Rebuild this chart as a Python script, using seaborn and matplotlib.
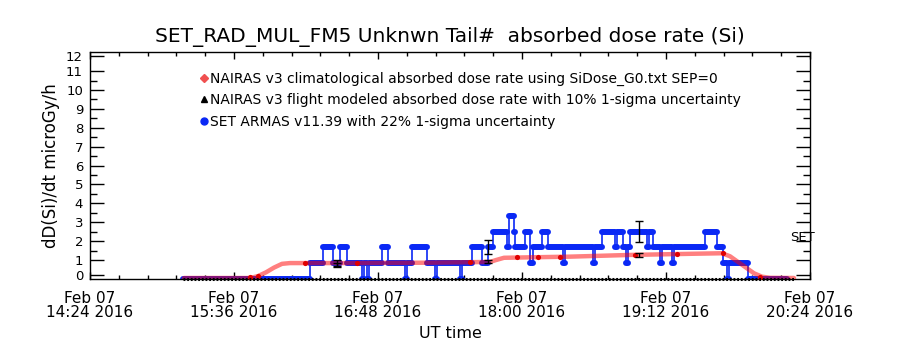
import numpy as np
import pandas as pd
import matplotlib
matplotlib.use('Agg')
import matplotlib.pyplot as plt
from matplotlib.lines import Line2D
import seaborn as sns

# time axis: minutes after Feb 07 2016 14:24 UT
tick_min = [0, 72, 144, 216, 288, 360]
tick_labels = ['Feb 07\n14:24 2016', 'Feb 07\n15:36 2016', 'Feb 07\n16:48 2016',
               'Feb 07\n18:00 2016', 'Feb 07\n19:12 2016', 'Feb 07\n20:24 2016']

# NAIRAS v3 climatological dose rate
red_t = [47, 80, 84, 88, 92, 96, 100, 130, 170, 200, 203, 207, 240, 270, 300, 316,
         320, 324, 328, 332, 336, 340, 352]
red_v = [0.05, 0.05, 0.15, 0.35, 0.6, 0.8, 0.84, 0.84, 0.86, 0.9, 1.0, 1.12, 1.18,
         1.27, 1.33, 1.36, 1.2, 0.9, 0.6, 0.3, 0.12, 0.06, 0.05]
red_dot_t = [80, 84, 107.5, 133.5, 190, 213.5, 224, 235, 272.5, 293.5, 316.5, 335]
red_dot_v = [0.08, 0.18, 0.83, 0.84, 0.88, 1.14, 1.16, 1.17, 1.27, 1.31, 1.36, 0.1]

# NAIRAS v3 flight modeled (zero line plus three evaluated points, 10% error)
flight_line_t = [46.5, 352]
flight_line_v = [0, 0]
flight_t = [123.5, 199, 274.5]
flight_v = [0.78, 0.92, 1.27]

# SET ARMAS v11.39 measured dose rate, as runs (start minute, level)
set_start = [46.5, 110, 116.5, 121.5, 125, 128.5, 136, 137, 138.5, 139.5, 146, 149,
             157.5, 158.5, 161, 168.5, 172.5, 173.5, 185, 186, 191, 196, 199, 201.5,
             208.5, 209.5, 212, 212.5, 217.5, 220, 221.5, 226, 229, 236.5, 237.5,
             251.5, 252.5, 256, 262.5, 263.5, 266.5, 268, 269, 270, 278.5, 279.5,
             281.5, 285, 286, 291, 292, 307.5, 313.5, 316.5, 318.5, 319.5, 329]
set_level = [0, 0.83, 1.67, 0.83, 1.67, 0.83, 0, 0.83, 0, 0.83, 1.67, 0.83,
             0, 0.83, 1.67, 0.83, 0, 0.83, 0, 0.83, 1.67, 0.83, 1.67, 2.5,
             1.67, 3.33, 2.5, 1.67, 2.5, 0.83, 1.67, 2.5, 1.67, 0.83, 1.67,
             0.83, 1.67, 2.5, 1.67, 2.5, 1.67, 0.83, 1.67, 2.5, 1.67, 2.5,
             1.67, 0.83, 1.67, 0.83, 1.67, 2.5, 1.67, 0.83, 0, 0.83, 0]
set_last = 348.5
set_err_t = [123.5, 199, 274.5]
set_err_v = [0.83, 1.67, 2.5]

sns.set_theme(style="white")
plt.rcParams['font.family'] = ['DejaVu Sans']
plt.rcParams['text.color'] = 'black'
plt.rcParams['axes.labelcolor'] = 'black'
plt.rcParams['xtick.color'] = 'black'
plt.rcParams['ytick.color'] = 'black'

fig = plt.figure(figsize=(9, 3.5), dpi=100)
ax = fig.add_axes([0.1, 0.203, 0.8, 0.648])

blue = '#0a28f5'
set_end = set_start[1:] + [set_last]
steps = pd.DataFrame({'t': set_start + [set_last], 'v': set_level + [set_level[-1]]})
sns.lineplot(data=steps, x='t', y='v', estimator=None, sort=False, drawstyle='steps-post',
             color=blue, linewidth=1.2, ax=ax, zorder=2)
ax.hlines(set_level, set_start, set_end, colors=blue, linewidth=4.3, capstyle='round', zorder=2)

red = pd.DataFrame({'t': red_t, 'v': red_v})
sns.lineplot(data=red, x='t', y='v', estimator=None, color='#ff0000', alpha=0.5,
             linewidth=3.2, ax=ax, zorder=3)
sns.scatterplot(x=red_dot_t, y=red_dot_v, color='#e00000', s=14, linewidth=0, ax=ax, zorder=4)

sns.lineplot(x=flight_line_t, y=flight_line_v, color='black', linewidth=2.2,
             linestyle=(0, (0.6, 0.6)), ax=ax, zorder=5, clip_on=False)

ax.errorbar(set_err_t, set_err_v, yerr=[0.22 * v for v in set_err_v], fmt='none',
            ecolor='black', elinewidth=1, capsize=3, capthick=1, zorder=6)
ax.errorbar(flight_t, flight_v, yerr=[0.10 * v for v in flight_v], fmt='none',
            ecolor='black', elinewidth=1, capsize=3, capthick=1, zorder=6)

ax.set_xlim(0, 360)
ax.set_ylim(0, 12)
ax.set_xticks(tick_min)
ax.set_xticklabels(tick_labels, fontsize=11, linespacing=0.9)
ax.set_xticks(np.arange(0, 360.1, 14.4), minor=True)
ax.set_yticks([0.22] + list(range(1, 12)) + [11.78])
ax.set_yticklabels([str(i) for i in range(13)], fontsize=9.5)
ax.set_yticks([i + 0.5 for i in range(1, 11)], minor=True)
ax.tick_params(axis='y', which='major', direction='in', length=10, width=1,
               left=True, right=True, pad=5)
ax.tick_params(axis='y', which='minor', direction='in', length=5, width=1,
               left=True, right=True)
ax.tick_params(axis='x', which='major', direction='in', length=5, width=1,
               bottom=True, top=True, pad=9)
ax.tick_params(axis='x', which='minor', direction='in', length=3, width=1,
               bottom=True, top=True)
for s in ax.spines.values():
    s.set_color('black')
    s.set_linewidth(1)

ax.set_title('SET_RAD_MUL_FM5 Unknwn Tail#  absorbed dose rate (Si)', fontsize=14.5,
             pad=7, color='black')
ax.set_xlabel('UT time', fontsize=11.5, labelpad=4)
ax.set_ylabel('dD(Si)/dt microGy/h', fontsize=12, labelpad=4)
ax.text(0.972, 0.183, 'SET', transform=ax.transAxes, fontsize=9.5, va='center', ha='left')

handles = [Line2D([], [], marker='D', ls='none', color='#f05050', markersize=4.5),
           Line2D([], [], marker='^', ls='none', color='black', markersize=4.5),
           Line2D([], [], marker='o', ls='none', color=blue, markersize=5)]
labels = ['NAIRAS v3 climatological absorbed dose rate using SiDose_G0.txt SEP=0',
          'NAIRAS v3 flight modeled absorbed dose rate with 10% 1-sigma uncertainty',
          'SET ARMAS v11.39 with 22% 1-sigma uncertainty']
ax.legend(handles, labels, loc='upper left', bbox_to_anchor=(0.152, 0.915), frameon=False,
          fontsize=10, handlelength=0.6, handletextpad=0.15, labelspacing=0.55,
          borderpad=0, borderaxespad=0)

fig.savefig('out.png', dpi=100)
